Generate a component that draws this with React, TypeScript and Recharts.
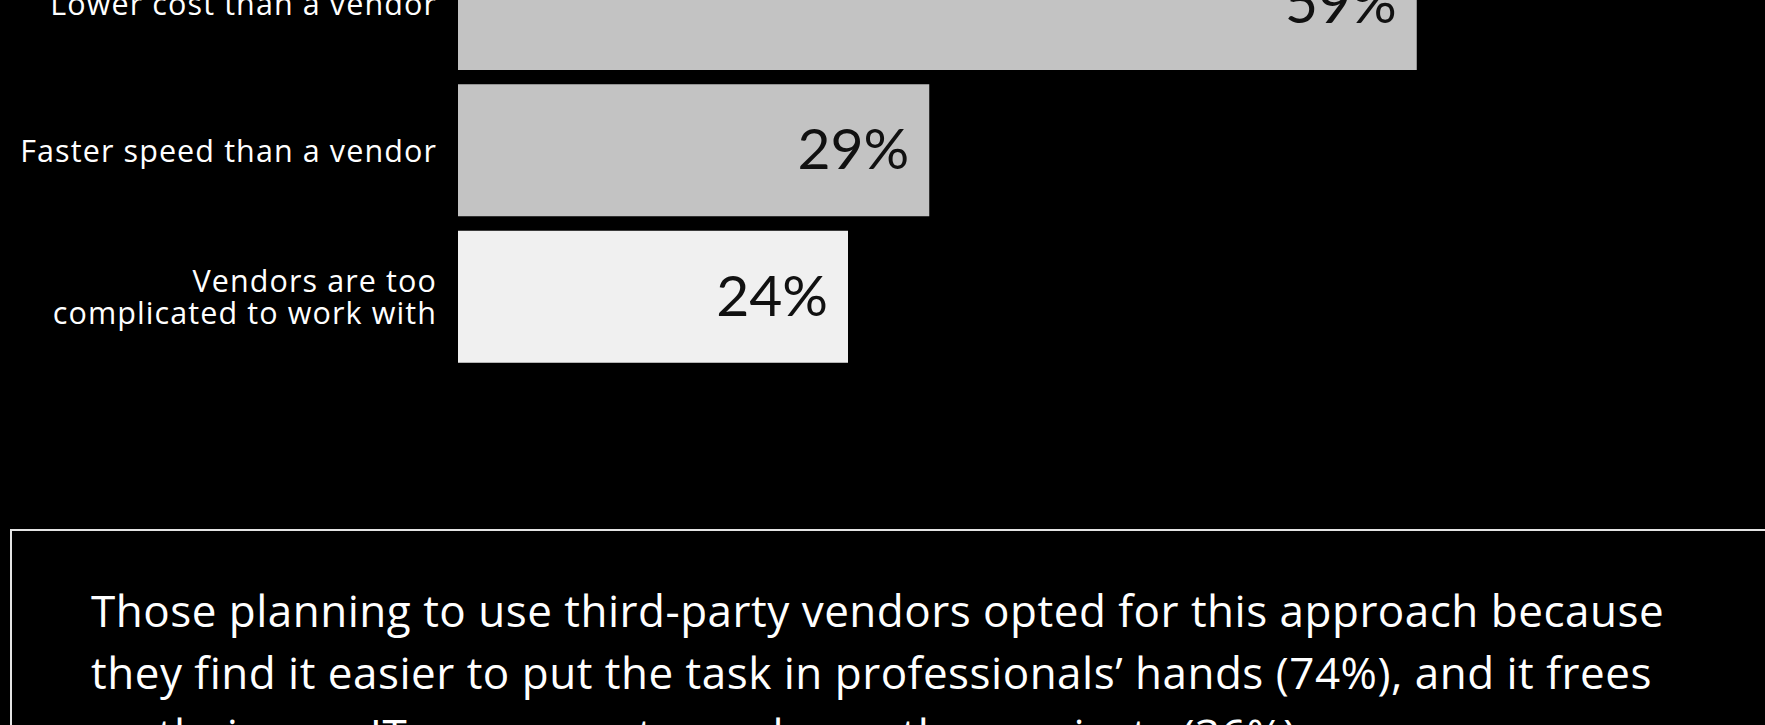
import React from 'react';
import { BarChart, Bar, XAxis, YAxis, Cell, LabelList } from 'recharts';

const categories = [
  'Lower cost than a vendor',
  'Faster speed than a vendor',
  'Vendors are too complicated to work with',
];
const categoryLines: string[][] = [
  ['Lower cost than a vendor'],
  ['Faster speed than a vendor'],
  ['Vendors are too', 'complicated to work with'],
];
const values = [59, 29, 24];
const valueLabels = ['59%', '29%', '24%'];
const barColors = ['#c3c3c3', '#c3c3c3', '#f0f0f0'];
const noteLines = [
  'Those planning to use third-party vendors opted for this approach because',
  'they find it easier to put the task in professionals\u2019 hands (74%), and it frees',
  'up their own IT resources to work on other projects (36%).',
];

const data = categories.map((name, i) => ({ name, value: values[i], label: valueLabels[i] }));

const FONT = '"Open Sans", Lato, sans-serif';
const VALUE_FONT = 'Lato, "Open Sans", sans-serif';

const CategoryTick = (props: any) => {
  const { x, y, payload } = props;
  const idx = categories.indexOf(payload.value);
  const lines = categoryLines[idx] || [payload.value];
  const pitch = 32.5;
  const n = lines.length;
  return (
    <text
      x={x}
      y={y}
      textAnchor="end"
      fill="#ffffff"
      fontFamily={FONT}
      fontSize={30.5}
      letterSpacing={1.1}
    >
      {lines.map((l, i) => (
        <tspan key={i} x={x} y={y + 11 + (i - (n - 1) / 2) * pitch}>
          {l}
        </tspan>
      ))}
    </text>
  );
};

const ValueLabel = (props: any) => {
  const { x, y, width, height, index } = props;
  return (
    <text
      x={x + width - 20}
      y={y + height / 2 + 19}
      textAnchor="end"
      fill="#111111"
      fontFamily={VALUE_FONT}
      fontSize={57}
    >
      {valueLabels[index]}
    </text>
  );
};

export default function App() {
  return (
    <div
      style={{
        position: 'absolute',
        left: 0,
        top: 0,
        width: 1765,
        height: 725,
        background: '#000000',
        overflow: 'hidden',
      }}
    >
      <div style={{ position: 'absolute', left: 0, top: -100 }}>
        <BarChart
          layout="vertical"
          width={1765}
          height={500}
          data={data}
          margin={{ top: 31, right: 7, bottom: 30, left: 0 }}
        >
          <XAxis type="number" domain={[0, 80]} hide />
          <YAxis
            type="category"
            dataKey="name"
            width={458}
            tickLine={false}
            axisLine={false}
            tickSize={0}
            tickMargin={21}
            tick={<CategoryTick />}
            interval={0}
          />
          <Bar dataKey="value" barSize={132} isAnimationActive={false}>
            {data.map((d, i) => (
              <Cell key={d.name} fill={barColors[i]} />
            ))}
            <LabelList dataKey="label" content={<ValueLabel />} />
          </Bar>
        </BarChart>
      </div>
      <div
        style={{
          position: 'absolute',
          left: 10,
          top: 529,
          width: 1900,
          height: 400,
          border: '2px solid #e4e4e4',
          boxSizing: 'border-box',
        }}
      />
      <svg
        width={1765}
        height={725}
        style={{ position: 'absolute', left: 0, top: 0 }}
      >
        {noteLines.map((l, i) => (
          <text
            key={i}
            x={91}
            y={627 + i * 62}
            fill="#ffffff"
            fontFamily={FONT}
            fontSize={44}
            letterSpacing={0.5}
          >
            {l}
          </text>
        ))}
      </svg>
    </div>
  );
}
